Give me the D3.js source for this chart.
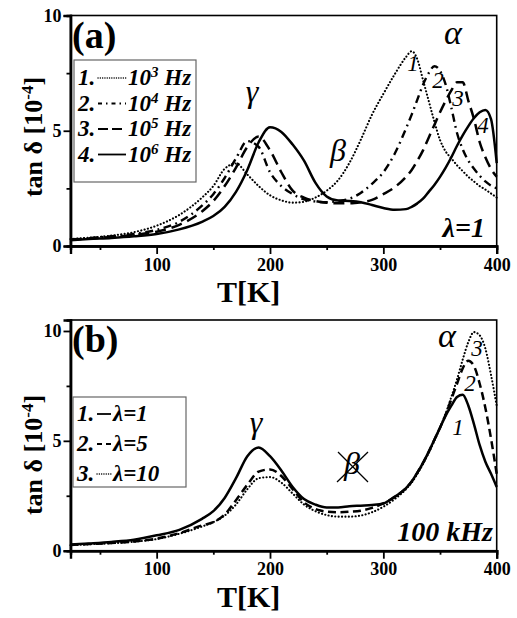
<!DOCTYPE html>
<html>
<head>
<meta charset="utf-8">
<script src="https://cdn.jsdelivr.net/npm/d3@7"></script>
<style>
  body { margin: 0; background: #fff; }
  svg text { font-family: "Liberation Serif", "Times New Roman", serif; fill: #000; }
</style>
</head>
<body>
<div id="chart"></div>
<script>
// temperatures (K) shared by all curves
var tempK = [24,40,60,80,100,120,140,150,160,170,180,190,200,210,220,230,240,250,260,270,280,290,300,310,320,325,330,335,340,345,350,355,360,365,370,375,380,385,390,395,400];

// panel (a): lambda = 1, four frequencies
var a_1e3 = [0.3,0.36,0.45,0.6,0.88,1.35,2.1,2.6,3.35,3.58,3.1,2.6,2.2,1.98,1.88,1.92,2.1,2.4,2.85,3.6,4.6,5.7,6.6,7.45,8.2,8.45,8.1,7.2,6.3,5.4,4.6,4.1,3.8,3.5,3.25,3.0,2.8,2.6,2.45,2.28,2.1];
var a_1e4 = [0.28,0.34,0.42,0.52,0.7,1.05,1.75,2.25,2.95,3.8,4.55,4.3,3.2,2.6,2.25,2.02,1.93,1.9,1.95,2.05,2.3,2.7,3.2,4.0,5.1,5.7,6.35,7.0,7.5,7.8,7.6,7.0,6.0,4.9,4.2,3.7,3.35,3.05,2.8,2.62,2.5];
var a_1e5 = [0.27,0.32,0.39,0.48,0.62,0.92,1.5,1.95,2.6,3.4,4.3,4.75,4.15,3.2,2.4,2.1,1.95,1.88,1.85,1.85,1.9,2.0,2.25,2.55,3.0,3.3,3.7,4.15,4.7,5.25,5.8,6.3,6.75,7.1,7.1,6.3,5.5,4.5,3.85,3.35,3.0];
var a_1e6 = [0.25,0.3,0.35,0.42,0.52,0.72,1.05,1.3,1.7,2.35,3.3,4.5,5.15,4.95,4.4,3.7,2.75,2.15,1.97,1.95,1.9,1.78,1.65,1.57,1.6,1.7,1.85,2.05,2.35,2.65,3.0,3.4,3.85,4.35,4.8,5.2,5.55,5.8,5.9,5.5,3.6];

// panel (b): 100 kHz, three lambda values
var b_l1  = [0.28,0.33,0.4,0.5,0.7,0.95,1.45,1.8,2.4,3.3,4.3,4.7,4.3,3.65,2.9,2.35,2.1,1.97,1.97,2.02,2.05,2.08,2.15,2.45,2.85,3.15,3.55,4.0,4.5,5.05,5.6,6.15,6.6,7.0,7.1,6.6,5.75,4.8,4.05,3.5,2.9];
var b_l5  = [0.26,0.3,0.35,0.42,0.55,0.8,1.15,1.3,1.65,2.3,3.0,3.6,3.7,3.4,2.8,2.2,1.9,1.78,1.75,1.77,1.82,1.95,2.15,2.45,2.85,3.15,3.55,4.0,4.5,5.05,5.6,6.2,6.9,7.6,8.3,8.65,8.4,7.6,6.5,5.1,3.5];
var b_l10 = [0.25,0.29,0.34,0.41,0.53,0.77,1.1,1.3,1.6,2.1,2.8,3.3,3.35,3.1,2.6,2.1,1.8,1.62,1.55,1.55,1.6,1.75,2.0,2.35,2.8,3.1,3.5,3.95,4.45,5.0,5.6,6.25,7.0,7.8,8.7,9.5,9.95,9.8,9.2,8.0,6.6];

var xMajor = [100,200,300,400];
var xMinor = [50,150,250,350];
var yMajor = [0,5,10];
var yMinor = [2.5,7.5];

var W = 517, H = 618;
var svg = d3.select("#chart").append("svg").attr("width", W).attr("height", H)
  .attr("font-family", "'Liberation Serif', serif");

var x = d3.scaleLinear().domain([24,400]).range([70.5,496.7]);

var styles = {
  dot:     {w: 2.1, dash: "0.1,3.3", cap: "round"},
  dashdot: {w: 2.4, dash: "8,4.5,1.8,4.5", cap: "butt"},
  dash:    {w: 2.5, dash: "11,6", cap: "butt"},
  dashB:   {w: 2.5, dash: "8,4.5", cap: "butt"},
  solid:   {w: 2.5, dash: null, cap: "butt"}
};

function panel(cfg) {
  var y = d3.scaleLinear().domain([0, cfg.ymax]).range([cfg.bottom, cfg.top]);
  var g = svg.append("g");

  // curves
  var line = d3.line()
    .x(function(d) { return x(d[0]); })
    .y(function(d) { return y(d[1]); })
    .curve(d3.curveMonotoneX);
  cfg.series.forEach(function(s) {
    var st = styles[s.style];
    g.append("path")
      .datum(tempK.map(function(t, i) { return [t, s.values[i]]; }))
      .attr("d", line)
      .attr("fill", "none")
      .attr("stroke", "#000")
      .attr("stroke-width", st.w)
      .attr("stroke-linecap", st.cap)
      .attr("stroke-dasharray", st.dash);
  });

  // frame
  g.append("rect")
    .attr("x", x.range()[0]).attr("y", cfg.top)
    .attr("width", x.range()[1] - x.range()[0]).attr("height", cfg.bottom - cfg.top)
    .attr("fill", "none").attr("stroke", "#000").attr("stroke-width", 1.6);

  // axes
  g.append("g").attr("transform", "translate(0," + cfg.bottom + ")")
    .call(d3.axisBottom(x).tickValues(xMajor).tickSize(8).tickPadding(4));
  g.append("g").attr("transform", "translate(0," + cfg.bottom + ")")
    .call(d3.axisBottom(x).tickValues(xMinor).tickSize(4).tickFormat(""));
  g.append("g").attr("transform", "translate(" + x.range()[0] + ",0)")
    .call(d3.axisLeft(y).tickValues(yMajor).tickSize(7).tickPadding(2));
  g.append("g").attr("transform", "translate(" + x.range()[0] + ",0)")
    .call(d3.axisLeft(y).tickValues(yMinor).tickSize(4).tickFormat(""));
  g.selectAll(".domain").attr("stroke-width", 2.4);
  g.selectAll(".tick line").attr("stroke-width", 1.8);
  g.selectAll(".tick text").attr("font-size", 18).attr("font-weight", "bold")
    .attr("font-family", "'Liberation Serif', serif");

  // axis titles
  g.append("text")
    .attr("x", (x.range()[0] + x.range()[1]) / 2 - 35).attr("y", cfg.bottom + 56)
    .attr("text-anchor", "middle").attr("font-size", 30).attr("font-weight", "bold")
    .text("T[K]");
  var yt = g.append("text")
    .attr("transform", "translate(42," + cfg.ytitleY + ") rotate(-90)")
    .attr("text-anchor", "middle").attr("font-size", 26).attr("font-weight", "bold");
  yt.append("tspan").text("tan \u03b4 [10");
  yt.append("tspan").attr("dy", -9).attr("font-size", 17).text("-4");
  yt.append("tspan").attr("dy", 9).text("]");

  // panel letter
  g.append("text").attr("x", 72).attr("y", cfg.top + 32)
    .attr("font-size", 38).attr("font-weight", "bold").text(cfg.letter);

  // legend
  var L = cfg.legend;
  g.append("rect").attr("x", L.x).attr("y", L.y).attr("width", L.w).attr("height", L.h)
    .attr("fill", "#fff").attr("stroke", "#666").attr("stroke-width", 1.2);
  L.items.forEach(function(it, i) {
    var cy = L.y + L.first + i * L.step;
    var st = styles[it.style];
    g.append("text").attr("x", L.x + 4).attr("y", cy + 8)
      .attr("font-size", 23).attr("font-style", "italic").attr("font-weight", "bold")
      .text((i + 1) + ".");
    g.append("line").attr("x1", L.x + 24).attr("x2", L.x + L.lineW)
      .attr("y1", cy + 1).attr("y2", cy + 1)
      .attr("stroke", "#000").attr("stroke-width", it.style === "dot" ? 1.4 : 1.8)
      .attr("stroke-dasharray", it.style === "dot" ? "0.1,2.2" : st.dash === null ? null : it.dash)
      .attr("stroke-linecap", st.cap);
    var t = g.append("text").attr("x", L.x + L.lineW + 2).attr("y", cy + 8)
      .attr("font-size", 23).attr("font-style", "italic").attr("font-weight", "bold");
    it.label(t);
  });

  return {g: g, y: y};
}

function freqLabel(exp) {
  return function(t) {
    t.append("tspan").text("10");
    t.append("tspan").attr("dy", -8).attr("font-size", 15).text(exp);
    t.append("tspan").attr("dy", 8).text(" Hz");
  };
}
function lamLabel(v) {
  return function(t) { t.text("\u03bb=" + v); };
}

var pa = panel({
  top: 15.5, bottom: 246, ymax: 10, letter: "(a)", ytitleY: 137,
  series: [
    {values: a_1e3, style: "dot"},
    {values: a_1e4, style: "dashdot"},
    {values: a_1e5, style: "dash"},
    {values: a_1e6, style: "solid"}
  ],
  legend: {x: 74, y: 60, w: 122, h: 122, first: 17, step: 25.5, lineW: 52,
    items: [
      {style: "dot", label: freqLabel("3")},
      {style: "dashdot", dash: "4,4,1.5,4", label: freqLabel("4")},
      {style: "dash", dash: "10,4", label: freqLabel("5")},
      {style: "solid", label: freqLabel("6")}
    ]}
});

var pb = panel({
  top: 320, bottom: 550.7, ymax: 10.5, letter: "(b)", ytitleY: 455,
  series: [
    {values: b_l10, style: "dot"},
    {values: b_l5, style: "dashB"},
    {values: b_l1, style: "solid"}
  ],
  legend: {x: 73, y: 397, w: 113, h: 90, first: 16, step: 30, lineW: 38,
    items: [
      {style: "solid", label: lamLabel(1)},
      {style: "dashB", dash: "5,4", label: lamLabel(5)},
      {style: "dot", label: lamLabel(10)}
    ]}
});

// annotations
function note(g, px, py, txt, size, anchor, bold) {
  return g.append("text").attr("x", px).attr("y", py)
    .attr("text-anchor", anchor || "middle")
    .attr("font-size", size).attr("font-style", "italic")
    .attr("font-weight", bold ? "bold" : "normal").text(txt);
}
var ga = pa.g;
note(ga, 252, 102, "\u03b3", 32);
note(ga, 338, 161, "\u03b2", 32);
note(ga, 453, 44, "\u03b1", 34);
note(ga, 413, 71, "1", 23);
note(ga, 438, 88, "2", 23);
note(ga, 458, 106, "3", 23);
note(ga, 483, 133, "4", 23);
note(ga, 485, 237, "\u03bb=1", 28, "end", true);

var gb = pb.g;
note(gb, 256, 433, "\u03b3", 32);
note(gb, 447, 347, "\u03b1", 34);
note(gb, 477, 356, "3", 23);
note(gb, 470, 391, "2", 23);
note(gb, 458, 435, "1", 23);
note(gb, 352, 474, "\u03b2", 32);
gb.append("line").attr("x1", 338).attr("y1", 452).attr("x2", 368).attr("y2", 482)
  .attr("stroke", "#000").attr("stroke-width", 1.3);
gb.append("line").attr("x1", 368).attr("y1", 452).attr("x2", 337).attr("y2", 482)
  .attr("stroke", "#000").attr("stroke-width", 1.3);
note(gb, 493, 541, "100 kHz", 28, "end", true);
</script>
</body>
</html>
